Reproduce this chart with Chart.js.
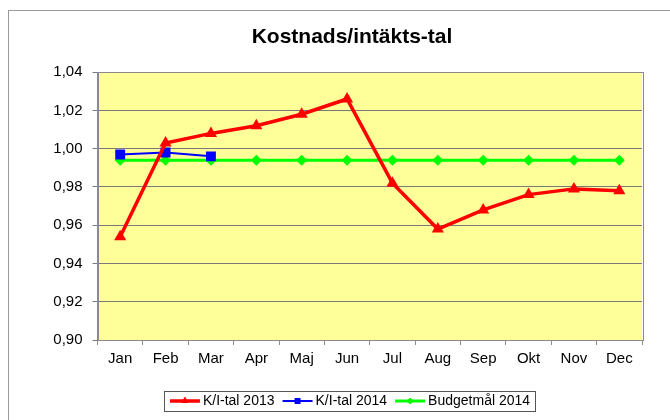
<!DOCTYPE html>
<html>
<head>
<meta charset="utf-8">
<script src="https://cdn.jsdelivr.net/npm/chart.js@4.4.0/dist/chart.umd.min.js"></script>
<style>
  html, body { margin: 0; padding: 0; background: #fff; overflow: hidden; }
  #wrap { position: absolute; left: 0; top: 0; width: 710px; height: 440px; }
</style>
</head>
<body>
<div id="wrap"><canvas id="kostnad"></canvas></div>
<script>
// Kostnads/intäkts-tal per månad
const months = ['Jan', 'Feb', 'Mar', 'Apr', 'Maj', 'Jun', 'Jul', 'Aug', 'Sep', 'Okt', 'Nov', 'Dec'];
const kiTal2013 = [0.954, 1.003, 1.008, 1.012, 1.018, 1.026, 0.982, 0.958, 0.968, 0.976, 0.979, 0.978];
const kiTal2014 = [0.997, 0.998, 0.996];
const budget2014 = [0.994, 0.994, 0.994, 0.994, 0.994, 0.994, 0.994, 0.994, 0.994, 0.994, 0.994, 0.994];
const yMin = 0.90, yMax = 1.04, yStep = 0.02;

Chart.defaults.font.family = "'Liberation Sans', Arial, sans-serif";
Chart.defaults.color = '#000';

// small line + marker icon for the legend
function legendIcon(color, style, width, radius) {
  const c = document.createElement('canvas');
  c.width = 32; c.height = 14;
  const g = c.getContext('2d');
  g.strokeStyle = color;
  g.lineWidth = width;
  g.beginPath(); g.moveTo(1, 7); g.lineTo(31, 7); g.stroke();
  g.fillStyle = color;
  Chart.helpers.drawPoint(g, { pointStyle: style, radius: radius, borderWidth: 0 }, 16, 7);
  g.fill();
  return c;
}

const plotDeco = {
  id: 'plotDeco',
  beforeDraw(chart) {
    const a = chart.chartArea, ctx = chart.ctx;
    ctx.save();
    ctx.fillStyle = '#FFFF99';
    ctx.fillRect(a.left, a.top, a.right - a.left, a.bottom - a.top);
    ctx.restore();
  },
  afterDraw(chart) {
    const a = chart.chartArea, ctx = chart.ctx;
    ctx.save();
    ctx.strokeStyle = '#8a8a8a';
    ctx.lineWidth = 1;
    ctx.strokeRect(Math.round(a.left) + 0.5, Math.round(a.top) + 0.5, Math.round(a.right - a.left), Math.round(a.bottom - a.top));
    // outer frame
    ctx.strokeStyle = '#9a9a9a';
    ctx.strokeRect(8.5, 10.5, 688, 425);
    // legend frame
    const hb = chart.legend.legendHitBoxes;
    if (hb && hb.length) {
      const l = hb[0].left - 10;
      const r = hb[hb.length - 1].left + hb[hb.length - 1].width + 5;
      const t = hb[0].top - 3;
      const h = hb[0].height + 6;
      ctx.strokeStyle = '#555';
      ctx.strokeRect(Math.round(l) + 0.5, Math.round(t) + 0.5, Math.round(r - l), Math.round(h));
    }
    ctx.restore();
  }
};

const ctx = document.getElementById('kostnad').getContext('2d');
const kostnadChart = new Chart(ctx, {
  type: 'line',
  plugins: [plotDeco],
  data: {
    labels: months,
    datasets: [
      {
        label: 'K/I-tal 2013',
        data: kiTal2013,
        borderColor: '#FF0000',
        backgroundColor: '#FF0000',
        borderWidth: 3.5,
        pointStyle: 'triangle',
        pointRadius: 7,
        pointBorderWidth: 0,
        tension: 0,
        order: 1
      },
      {
        label: 'K/I-tal 2014',
        data: kiTal2014,
        borderColor: '#0000FF',
        backgroundColor: '#0000FF',
        borderWidth: 2,
        pointStyle: 'rect',
        pointRadius: 7,
        pointBorderWidth: 0,
        tension: 0,
        order: 2
      },
      {
        label: 'Budgetmål 2014',
        data: budget2014,
        borderColor: '#00FF00',
        backgroundColor: '#00FF00',
        borderWidth: 3,
        pointStyle: 'rectRot',
        pointRadius: 5.5,
        pointBorderWidth: 0,
        tension: 0,
        order: 3
      }
    ]
  },
  options: {
    responsive: true,
    maintainAspectRatio: false,
    animation: false,
    layout: { padding: { left: 8, right: 14, top: 10, bottom: 22 } },
    scales: {
      x: {
        offset: true,
        grid: { offset: true, drawOnChartArea: false, drawTicks: true, tickLength: 5, color: '#8a8a8a' },
        border: { display: true, color: '#8a8a8a' },
        ticks: { font: { size: 15 }, padding: 5, color: '#000' },
        afterFit(s) { s.height = 42; }
      },
      y: {
        min: yMin,
        max: yMax,
        grid: { color: '#7a7a7a', tickLength: 5, lineWidth: 1 },
        border: { display: true, color: '#8a8a8a' },
        ticks: {
          stepSize: yStep,
          font: { size: 15 },
          padding: 10,
          color: '#000',
          callback: function (value) {
            return value.toFixed(2).replace('.', ',');
          }
        },
        afterFit(s) { s.width = 89.5; }
      },
      yRight: {
        position: 'right',
        display: true,
        grid: { display: false },
        border: { display: false },
        ticks: { display: false },
        afterFit(s) { s.width = 54; }
      }
    },
    plugins: {
      title: {
        display: true,
        text: 'Kostnads/intäkts-tal',
        font: { size: 21, weight: 'bold' },
        color: '#000',
        padding: { top: 15, bottom: 22 }
      },
      legend: {
        display: true,
        position: 'bottom',
        labels: {
          font: { size: 14 },
          color: '#000',
          usePointStyle: true,
          pointStyleWidth: 22,
          padding: 12,
          generateLabels: function (chart) {
            return chart.data.datasets.map(function (ds, i) {
              return {
                text: ds.label,
                pointStyle: legendIcon(ds.borderColor, ds.pointStyle, ds.borderWidth, ds.pointRadius * 0.6),
                fillStyle: ds.borderColor,
                strokeStyle: ds.borderColor,
                lineWidth: 0,
                datasetIndex: i
              };
            });
          }
        }
      },
      tooltip: { enabled: false }
    }
  }
});
</script>
</body>
</html>
